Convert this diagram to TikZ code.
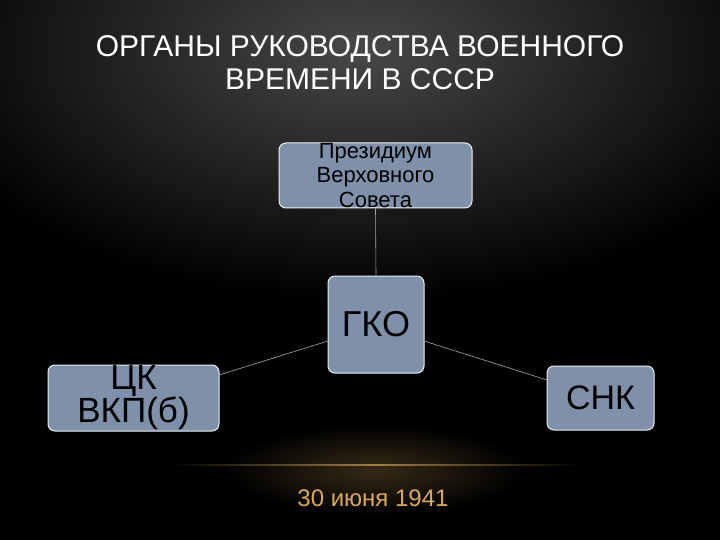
\documentclass[tikz,border=0pt]{standalone}
\usepackage{fontspec}
\setmainfont{Liberation Sans}
\definecolor{boxc}{HTML}{7F90AA}
\definecolor{gold}{HTML}{D9A85A}
\begin{document}
\begin{tikzpicture}[x=1pt,y=-1pt,
  box/.style={draw=white!85!boxc,line width=1pt,fill=boxc,rounded corners=7pt,inner sep=0pt,text=black,align=center},
  conn/.style={draw=gray!70,line width=0.6pt}]
\useasboundingbox (0,0) rectangle (720,540);
\fill[black] (0,0) rectangle (720,540);
\shade[inner color=black!72!white,outer color=black] (-100,-200) rectangle (820,300);
\fill[black] (0,300) rectangle (720,540);
\shade[inner color=gold!25!black,outer color=black] (375,470) ellipse (150 and 45);
\shade[left color=black,right color=black,middle color=gold!75!black] (170,464.3) rectangle (580,465.7);
\node[text=white,font=\fontsize{30}{33}\selectfont,align=center] (title) at (360,63) {ОРГАНЫ РУКОВОДСТВА ВОЕННОГО\\ВРЕМЕНИ В СССР};
\node[box,minimum width=193pt,minimum height=65pt,font=\fontsize{22}{24.5}\selectfont] (p) at (375.5,175.5) {Президиум\\Верховного\\Совета};
\node[box,minimum width=96pt,minimum height=97pt,font=\fontsize{36}{40}\selectfont] (g) at (376,324.5) {ГКО};
\node[box,minimum width=171pt,minimum height=66pt,font=\fontsize{35}{33}\selectfont] (c) at (133.5,398) {ЦК\\ВКП(б)};
\node[box,minimum width=107pt,minimum height=64pt,font=\fontsize{34}{38}\selectfont] (s) at (600.5,398) {СНК};
\coordinate (gl) at (328,341); \coordinate (gr) at (424,341);
\coordinate (cr) at (219,375); \coordinate (sl) at (547,380);
\draw[conn] (p.south) -- (g.north);
\draw[conn] (gl) -- (cr);
\draw[conn] (gr) -- (sl);
\node[text=gold,font=\fontsize{24}{28}\selectfont] (d) at (373,498) {30 июня 1941};
\end{tikzpicture}
\end{document}
